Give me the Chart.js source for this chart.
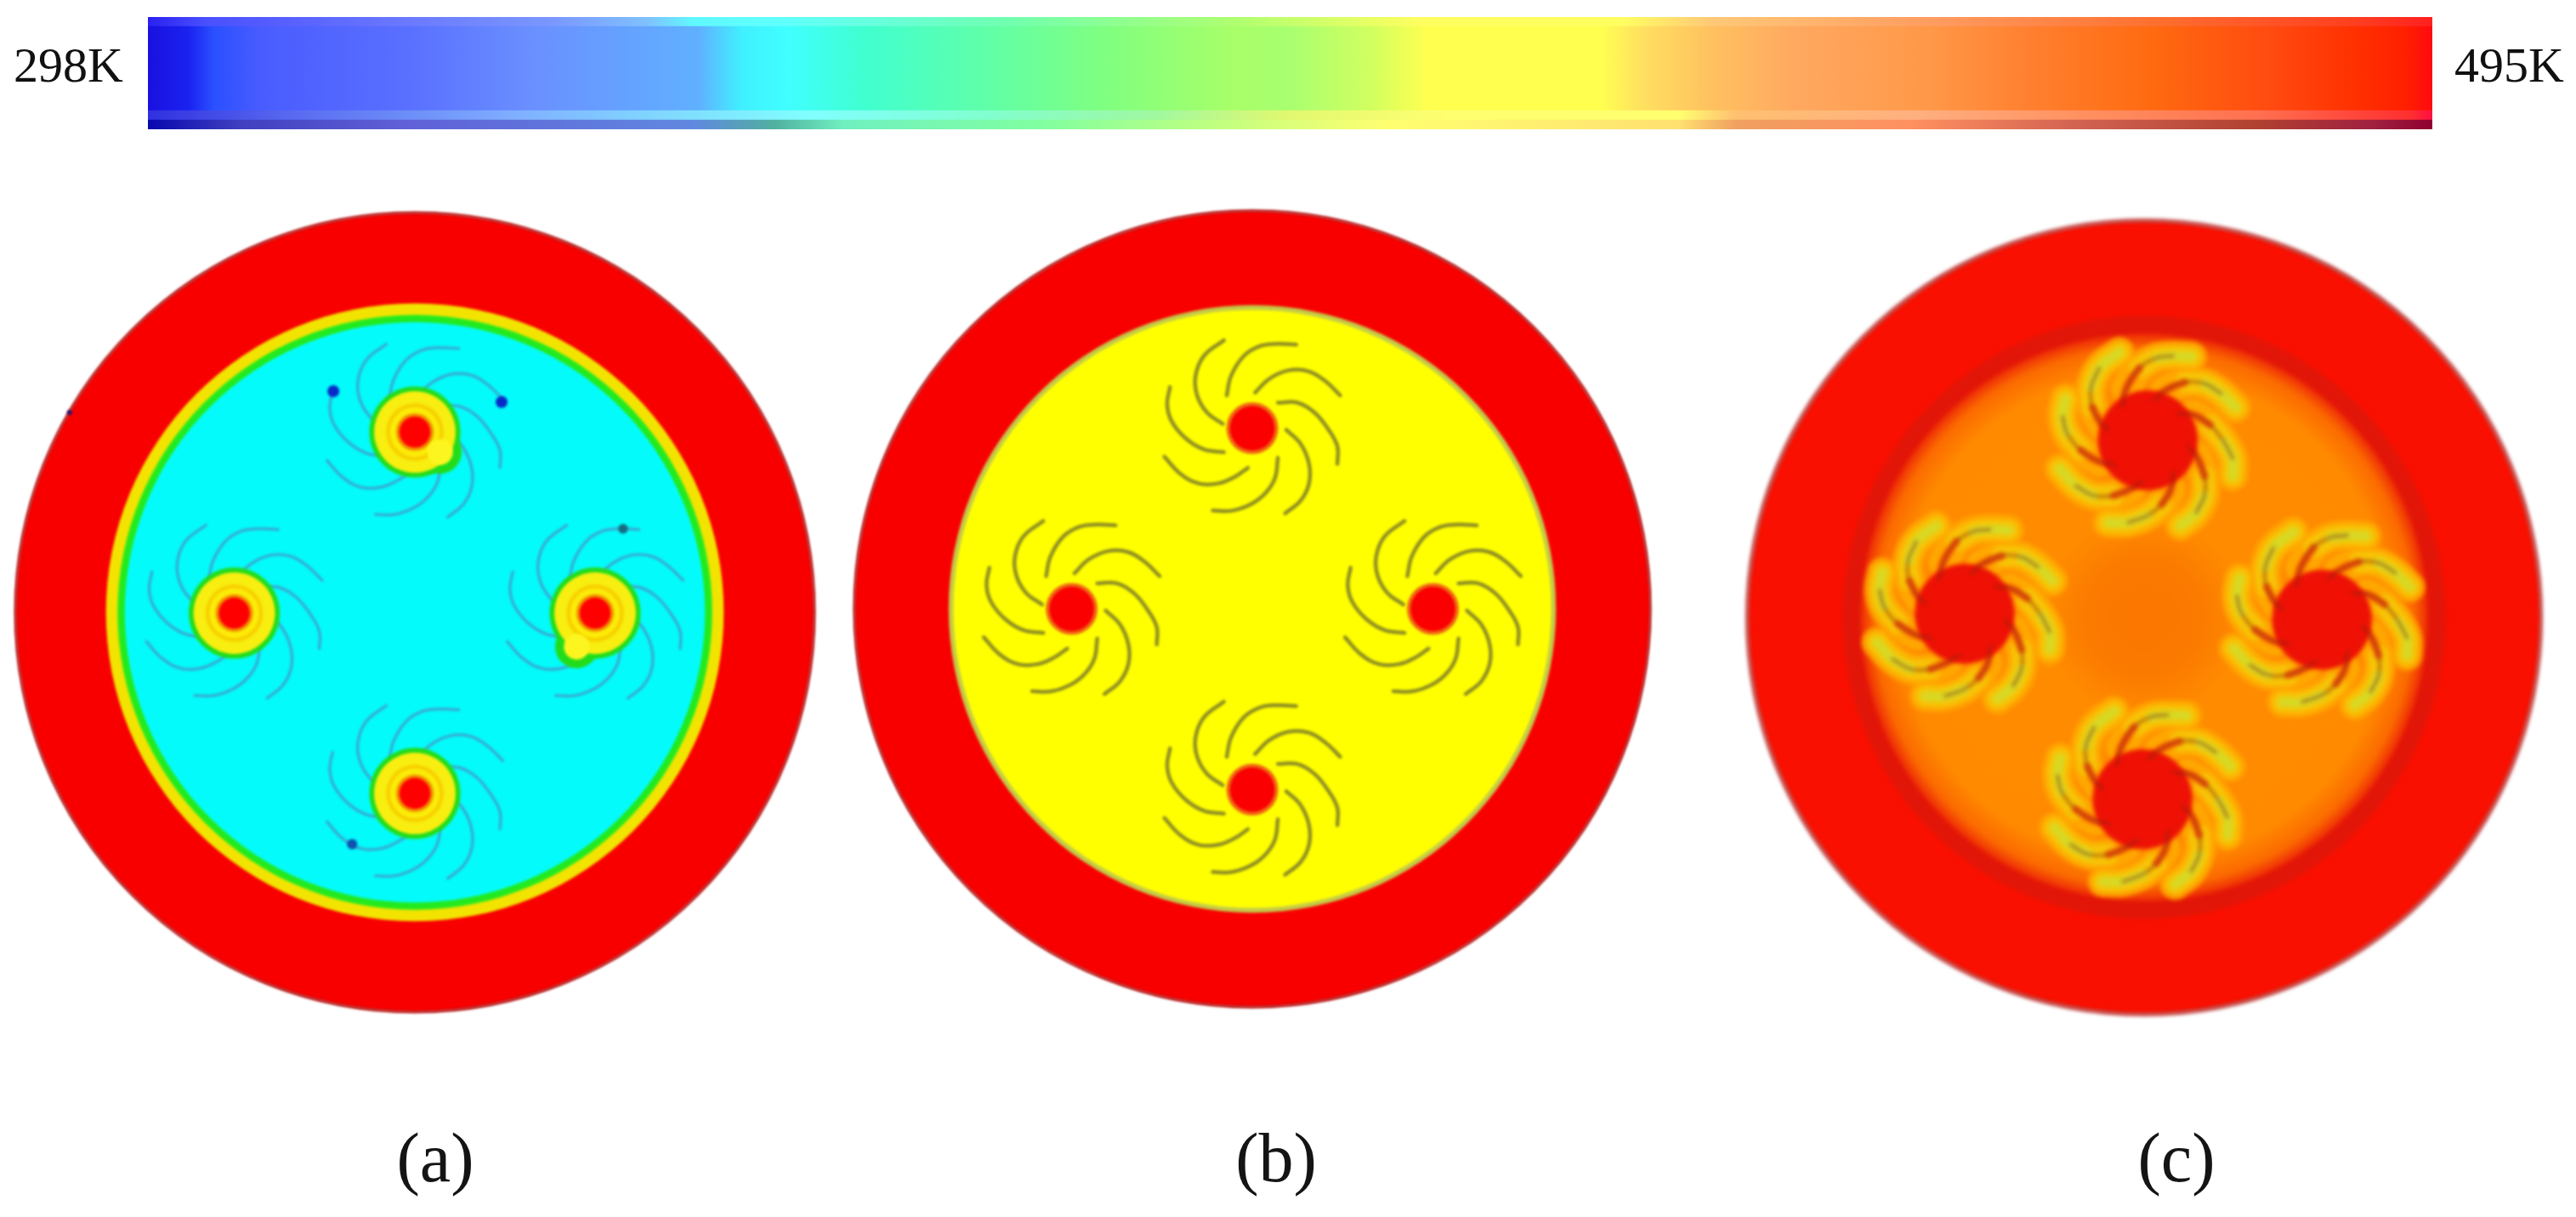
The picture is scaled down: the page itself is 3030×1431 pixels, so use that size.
<!DOCTYPE html>
<html>
<head>
<meta charset="utf-8">
<script src="https://cdn.jsdelivr.net/npm/chart.js@4"></script>
<style>
html,body{margin:0;padding:0;background:#fff;width:3030px;height:1431px;overflow:hidden}
canvas{position:absolute;display:block}
</style>
</head>
<body>
<canvas id="bar" width="3030" height="152" style="left:0;top:0"></canvas>
<canvas id="pa" width="1036" height="1182" style="left:-6px;top:226px"></canvas>
<canvas id="pb" width="1044" height="1186" style="left:979px;top:222px"></canvas>
<canvas id="pc" width="1064" height="1176" style="left:2028px;top:232px"></canvas>
<script>
// ---- colour bar data (temperature, K) ----
const tempMin = 298;
const tempMax = 495;
const barLabelLow = '298K';
const barLabelHigh = '495K';
const barRows = ['r1','r2','r3','r4','r5','r6','r7','r8','r9','r10','r11','r12'];
const labelRow = 5;
const mainTemps = [298,301.5,303.7,307.9,320.7,331.3,345.5,349.2,353.2,359.7,370.3,380.7,391.6,396.3,403.4,408.3,423.3,426.8,433.1,440.2,451.7,460.1,470.8,481.2,488.5,492.6,495];
const mainColors = ['#1a10e0','#1a22f0','#2a50ff','#4a5cff','#5a70ff','#6a90ff','#60b0ff','#40f0ff','#40ffff','#40ffd0','#60ffa8','#80ff80','#a8ff68','#a8ff70','#d0ff60','#ffff50','#ffff50','#ffe060','#ffc060','#ffa860','#ff9848','#ff8030','#ff6a10','#ff4a10','#ff3000','#ff2000','#ff0a10'];
const topTemps = [298,303,320,333,341,345,352,372,392,408,425,433,452,471,488,495];
const topColors = ['#2a20f0','#4a50ff','#6a78ff','#7a98ff','#80c0ff','#60f8ff','#60ffff','#70ffb0','#b0ff70','#ffff60','#ffff60','#ffc878','#ff9c60','#ff7030','#ff4020','#ff2020'];
const lightTemps = [298,310,330,345,355,370,385,396,410,430,435,450,465,480,493,495];
const lightColors = ['#3030e0','#5868f0','#80b0ff','#80e0ff','#80ffff','#80ffd0','#a0f8a0','#e0f870','#ffff70','#ffff70','#ffc070','#ffb080','#ff9060','#ff7050','#ff3030','#ff1040'];
const darkTemps = [298,306,320,345,352,358,375,390,405,430,435,450,465,480,490,495];
const darkColors = ['#0808b0','#4040c0','#6060d8','#6088e0','#50b0a0','#70f0c0','#80ffa0','#c0ff80','#ffff70','#ffe070','#f0a060','#ff9060','#d06050','#b04030','#a02040','#900030'];

// ---- panel data (position in % of the outer radius, measured from the disc centre) ----
const panelNames = ['(a)','(b)','(c)'];
const bladeXs = [
 [6.4,11.3,15.6,19.1,21.3,21.3],
 [0.7,4.3,9.2,14.2,18.4,22],
 [-6.4,-5.3,-2.1,2.1,6.4,11],
 [-7.4,-11.3,-13.8,-14.2,-12.1,-7.1],
 [-7.1,-12.1,-16.7,-20.2,-21.3,-20.6],
 [-1.1,-4.3,-8.5,-13.5,-18.1,-22],
 [6.4,5.7,3.5,0,-5,-9.9],
 [8.5,12.1,14.2,14.2,12.1,8.2]
];
const bladeYs = [
 [-6.4,-6.4,-3.9,0.4,4.6,8.9],
 [-8.9,-12.4,-14.5,-14.2,-11.7,-8.2],
 [-8.2,-13.1,-18.1,-20.6,-21.1,-20.9],
 [-1.1,-3.9,-8.2,-13.1,-18.1,-22],
 [6,5.3,2.5,-1.8,-6,-10.3],
 [9.9,12.1,13.8,13.8,11.3,7.1],
 [7.4,12.4,16,18.8,20.6,20.6],
 [0.4,3.9,8.9,13.8,18.1,21.3]
];
const hubXa = [0,45.1,-45.2,0];
const hubYa = [-45.1,0.2,0.2,45.3];
const hubXb = [0,45.2,-45.2,0];
const hubYb = [-45.2,0,0,45.2];
const hubXc = [0.9,44.5,-44.9,-0.4];
const hubYc = [-44.3,0.6,-0.9,45.5];

const ringRadiiA = [100,77.3,74.4,72.6];
const ringColorsA = ['#f80000','#f2e400','#22ea1e','#04fbfb'];
const hubRadiiA = [11.4,10.2,7.2,6.2,4.7,3.9];
const hubColorsA = ['#22dc1a','#f8ee10','#f7d000','#fbec08','#f29000','#ff0000'];
const hotHub = [0,1];
const hotXa = [6.3,-4.6];
const hotYa = [5,8.4];
const dotXa = [-20.4,21.7,52.1,-15.7,-86.4];
const dotYa = [-55.3,-52.6,-20.9,58,-50];
const dotRa = [1.5,1.5,1.2,1.3,0.6];
const dotColorsA = ['#0a2ac8','#0a2ac8','#146a80','#1050b0','#101080'];

const ringRadiiB = [99.6,76,74.8];
const ringColorsB = ['#f80000','#c4cc48','#ffff00'];
const hubRadiiB = [6.5,5.6];
const hubColorsB = ['#f06a14','#fa0000'];

const ringRadiiC = [99.3,75.5];
const ringColorsC = ['#fa1000','#e21608'];
const fieldRadiusC = 71;
const fieldStops = [0,0.2,0.36,0.86,0.95,1];
const fieldColors = ['#fb7600','#fb7a00','#ff8c00','#ff8a00','#fb6a00','#ee2a06'];
const coreRadiusC = 12.5;

// ---- drawing helpers ----
function radiusPx(chart, r){
  const s = chart.scales.x;
  return Math.abs(s.getPixelForValue(r) - s.getPixelForValue(0));
}
function disc(x, y, r, color, edge){
  return {
    type:'scatter', data:[{x, y, r}], showLine:false,
    pointRadius: c => radiusPx(c.chart, c.raw.r),
    pointHoverRadius: c => radiusPx(c.chart, c.raw.r),
    pointBackgroundColor: color,
    pointBorderColor: edge || 'rgba(0,0,0,0)',
    pointBorderWidth: edge ? 2.5 : 0
  };
}
function blade(hx, hy, k, from, to, color, width){
  const pts = bladeXs[k].map((v, i) => ({x: hx + v, y: hy + bladeYs[k][i]})).slice(from, to);
  return {
    type:'scatter', data:pts, showLine:true, tension:0.4, pointRadius:0, pointHoverRadius:0,
    borderColor:color, borderWidth:width, borderCapStyle:'round', borderJoinStyle:'round', fill:false
  };
}
function softPlugin(px){
  return {
    id:'soft',
    beforeDatasetsDraw(chart){ chart.ctx.save(); chart.ctx.filter = 'blur(' + px + 'px)'; },
    afterDatasetsDraw(chart){ chart.ctx.restore(); }
  };
}
function panelChart(id, name, datasets, labelShift, labelGap, soft){
  datasets.forEach((d, i) => { d.order = -i; d.clip = false; });
  return new Chart(document.getElementById(id), {
    data:{datasets},
    plugins:[softPlugin(soft)],
    options:{
      responsive:false, animation:false, devicePixelRatio:1, events:[],
      layout:{padding:0},
      scales:{
        x:{type:'linear', min:-105.1, max:105.1, display:false},
        y:{type:'linear', min:-105.1, max:105.1, reverse:true, position:'right', display:true,
           grid:{display:false}, border:{display:false}, ticks:{display:false},
           afterFit(s){ s.width = labelShift * 2; }}
      },
      plugins:{
        legend:{display:false}, tooltip:{enabled:false},
        title:{display:true, text:name, position:'bottom', color:'#141414',
               font:{family:'"Liberation Serif"', size:82, weight:'normal', lineHeight:1},
               padding:{top:labelGap, bottom:0}}
      }
    }
  });
}

// ---- colour bar ----
function gradient(chart, temps, colors){
  const a = chart.chartArea;
  if(!a) return colors[0];
  const g = chart.ctx.createLinearGradient(a.left, 0, a.right, 0);
  temps.forEach((t, i) => g.addColorStop((t - tempMin) / (tempMax - tempMin), colors[i]));
  return g;
}
function barAxis(position, text, pad, width){
  return {
    type:'category', axis:'y', position, labels:barRows, offset:true,
    grid:{display:false, drawTicks:false}, border:{display:false},
    ticks:{autoSkip:false, maxRotation:0, minRotation:0, padding:pad, color:'#111',
           font:{family:'"Liberation Serif"', size:58},
           callback:(v, i) => i === labelRow ? text : ''},
    afterFit(s){ s.width = width; s.paddingTop = 0; s.paddingBottom = 0; }
  };
}
new Chart(document.getElementById('bar'), {
  type:'bar',
  data:{labels:barRows, datasets:[{
    data:barRows.map(() => [tempMin, tempMax]),
    yAxisID:'y', xAxisID:'x', barPercentage:1, categoryPercentage:1, borderWidth:0,
    backgroundColor(c){
      const i = c.dataIndex;
      if(i < 1) return gradient(c.chart, topTemps, topColors);
      if(i === 10) return gradient(c.chart, lightTemps, lightColors);
      if(i === 11) return gradient(c.chart, darkTemps, darkColors);
      return gradient(c.chart, mainTemps, mainColors);
    }
  }]},
  options:{
    indexAxis:'y', responsive:false, animation:false, devicePixelRatio:1, events:[],
    layout:{padding:{top:20, left:0, right:0, bottom:0}},
    scales:{
      x:{type:'linear', min:tempMin, max:tempMax, display:false},
      y:barAxis('left', barLabelLow, 29, 174),
      high:barAxis('right', barLabelHigh, 26, 169)
    },
    plugins:{legend:{display:false}, tooltip:{enabled:false}}
  }
});

// ---- panel (a) ----
const dsA = [];
ringRadiiA.forEach((r, i) => dsA.push(disc(0, 0, r, ringColorsA[i], i === 0 ? '#a81010' : null)));
hubXa.forEach((hx, h) => {
  for(let k = 0; k < 8; k++) dsA.push(blade(hx, hubYa[h], k, 0, 6, '#38a6cf', 3.2));
});
hotHub.forEach((h, j) => dsA.push(disc(hubXa[h] + hotXa[j], hubYa[h] + hotYa[j], 5.4, hubColorsA[0])));
hubXa.forEach((hx, h) => hubRadiiA.forEach((r, i) => dsA.push(disc(hx, hubYa[h], r, hubColorsA[i]))));
hotHub.forEach((h, j) => dsA.push(disc(hubXa[h] + hotXa[j], hubYa[h] + hotYa[j], 3.2, '#fdf520')));
dotXa.forEach((v, i) => dsA.push(disc(v, dotYa[i], dotRa[i], dotColorsA[i])));
panelChart('pa', panelNames[0], dsA, 24, 112, 1.8);

// ---- panel (b) ----
const dsB = [];
ringRadiiB.forEach((r, i) => dsB.push(disc(0, 0, r, ringColorsB[i], i === 0 ? '#a81010' : null)));
hubXb.forEach((hx, h) => {
  for(let k = 0; k < 8; k++) dsB.push(blade(hx, hubYb[h], k, 0, 6, '#8f8e22', 4.5));
});
hubXb.forEach((hx, h) => hubRadiiB.forEach((r, i) => dsB.push(disc(hx, hubYb[h], r, hubColorsB[i]))));
panelChart('pb', panelNames[1], dsB, 28, 116, 1.8);

// ---- panel (c) ----
const dsC = [];
ringRadiiC.forEach((r, i) => dsC.push(disc(0, 0, r, ringColorsC[i], i === 0 ? '#901010' : null)));
dsC.push(disc(0, 0, fieldRadiusC, c => {
  const ch = c.chart;
  if(!ch.chartArea) return fieldColors[2];
  const cx = ch.scales.x.getPixelForValue(0), cy = ch.scales.y.getPixelForValue(0);
  const g = ch.ctx.createRadialGradient(cx, cy, 0, cx, cy, radiusPx(ch, fieldRadiusC));
  fieldStops.forEach((s, i) => g.addColorStop(s, fieldColors[i]));
  return g;
}));
hubXc.forEach((hx, h) => {
  for(let k = 0; k < 8; k++) dsC.push(blade(hx, hubYc[h], k, 1, 6, 'rgba(255,172,0,0.85)', 36));
});
hubXc.forEach((hx, h) => {
  for(let k = 0; k < 8; k++) dsC.push(blade(hx, hubYc[h], k, 2, 6, 'rgba(246,200,8,0.9)', 24));
});
hubXc.forEach((hx, h) => {
  for(let k = 0; k < 8; k++) dsC.push(blade(hx, hubYc[h], k, 3, 6, 'rgba(212,218,40,0.9)', 11));
});
hubXc.forEach((hx, h) => {
  for(let k = 0; k < 8; k++) dsC.push(blade(hx, hubYc[h], k, 0, 3, 'rgba(244,60,6,0.8)', 9));
});
hubXc.forEach((hx, h) => dsC.push(disc(hx, hubYc[h], coreRadiusC, '#ee1206')));
hubXc.forEach((hx, h) => {
  for(let k = 0; k < 8; k++) dsC.push(blade(hx, hubYc[h], k, 0, 5, 'rgba(130,40,16,0.7)', 2.6));
});
hubXc.forEach((hx, h) => dsC.push(disc(hx, hubYc[h], coreRadiusC - 2.5, '#f01004')));
panelChart('pc', panelNames[2], dsC, 38, 106, 2.6);
</script>
</body>
</html>
